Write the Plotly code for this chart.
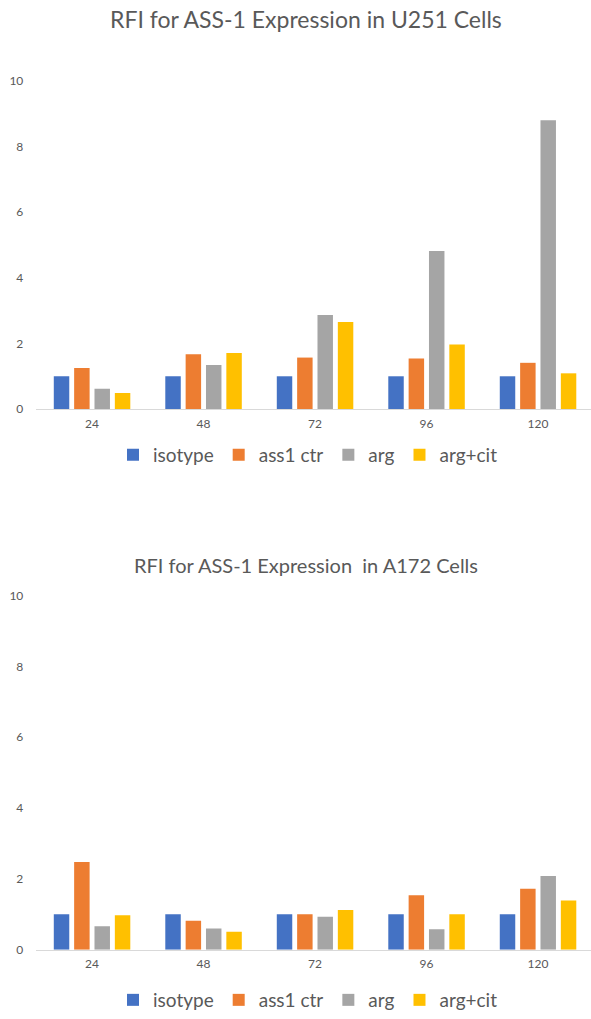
import plotly.graph_objects as go

# Time points (hours)
hours = ["24", "48", "72", "96", "120"]

# U251 cells: relative fluorescence intensity
u251_isotype = [1.0, 1.0, 1.0, 1.0, 1.0]
u251_ass1_ctr = [1.25, 1.67, 1.57, 1.54, 1.41]
u251_arg = [0.62, 1.34, 2.87, 4.82, 8.80]
u251_arg_cit = [0.49, 1.71, 2.65, 1.97, 1.09]

# A172 cells: relative fluorescence intensity
a172_isotype = [1.0, 1.0, 1.0, 1.0, 1.0]
a172_ass1_ctr = [2.48, 0.82, 1.0, 1.54, 1.72]
a172_arg = [0.66, 0.60, 0.93, 0.58, 2.08]
a172_arg_cit = [0.97, 0.51, 1.12, 1.0, 1.39]

series_names = ["isotype", "ass1 ctr", "arg", "arg+cit"]
colors = ["#4472C4", "#ED7D31", "#A5A5A5", "#FFC000"]

W, H = 591, 1019
FONT = "Lato"
TEXT = "#595959"


def py(px):
    """Convert a pixel row (from top) to paper coordinates."""
    return 1 - px / H


fig = go.Figure()

top = [u251_isotype, u251_ass1_ctr, u251_arg, u251_arg_cit]
bottom = [a172_isotype, a172_ass1_ctr, a172_arg, a172_arg_cit]

for name, color, vals in zip(series_names, colors, top):
    fig.add_trace(go.Bar(x=hours, y=vals, name=name, marker_color=color,
                         marker_line_width=0, xaxis="x", yaxis="y",
                         legend="legend"))
for name, color, vals in zip(series_names, colors, bottom):
    fig.add_trace(go.Bar(x=hours, y=vals, name=name, marker_color=color,
                         marker_line_width=0, xaxis="x2", yaxis="y2",
                         legend="legend2"))

x_dom = [36.3 / W, 1.0]
x_rng = [-0.5, 4.475]

xcommon = dict(type="category", domain=x_dom, range=x_rng, showgrid=False,
               showline=True, linecolor="#D9D9D9", linewidth=1, ticks="",
               tickfont=dict(family=FONT, size=12, color=TEXT),
               ticklabelstandoff=3, zeroline=False, fixedrange=True)
ycommon = dict(range=[0, 10], tickvals=[0, 2, 4, 6, 8, 10], showgrid=False,
               showline=False, zeroline=False, ticks="",
               tickfont=dict(family=FONT, size=12, color=TEXT),
               ticklabelstandoff=12, fixedrange=True)

legend_common = dict(orientation="h", xanchor="center", yanchor="middle",
                     font=dict(family=FONT, size=19, color=TEXT),
                     bgcolor="rgba(0,0,0,0)", itemwidth=30,
                     tracegroupgap=0, traceorder="normal")

fig.update_layout(
    width=W, height=H,
    margin=dict(l=0, r=0, t=0, b=0),
    paper_bgcolor="white", plot_bgcolor="white",
    barmode="group", bargap=0.27, bargroupgap=0.24,
    font=dict(family=FONT, color=TEXT),
    xaxis=dict(anchor="y", **xcommon),
    yaxis=dict(anchor="x", domain=[py(407.5), py(74)], **ycommon),
    xaxis2=dict(anchor="y2", **xcommon),
    yaxis2=dict(anchor="x2", domain=[py(956.7), py(597)], **ycommon),
    legend=dict(x=308 / W, y=py(454), **legend_common),
    legend2=dict(x=308 / W, y=py(1008), **legend_common),
    annotations=[
        dict(text="RFI for ASS-1 Expression in U251 Cells", xref="paper",
             yref="paper", x=306 / W, y=py(11), xanchor="center",
             yanchor="middle", showarrow=False,
             font=dict(family=FONT, size=23, color=TEXT)),
        dict(text="RFI for ASS-1 Expression&nbsp; in A172 Cells", xref="paper",
             yref="paper", x=306 / W, y=py(566), xanchor="center",
             yanchor="middle", showarrow=False,
             font=dict(family=FONT, size=20, color=TEXT)),
    ],
)

fig.write_html("out.html")
